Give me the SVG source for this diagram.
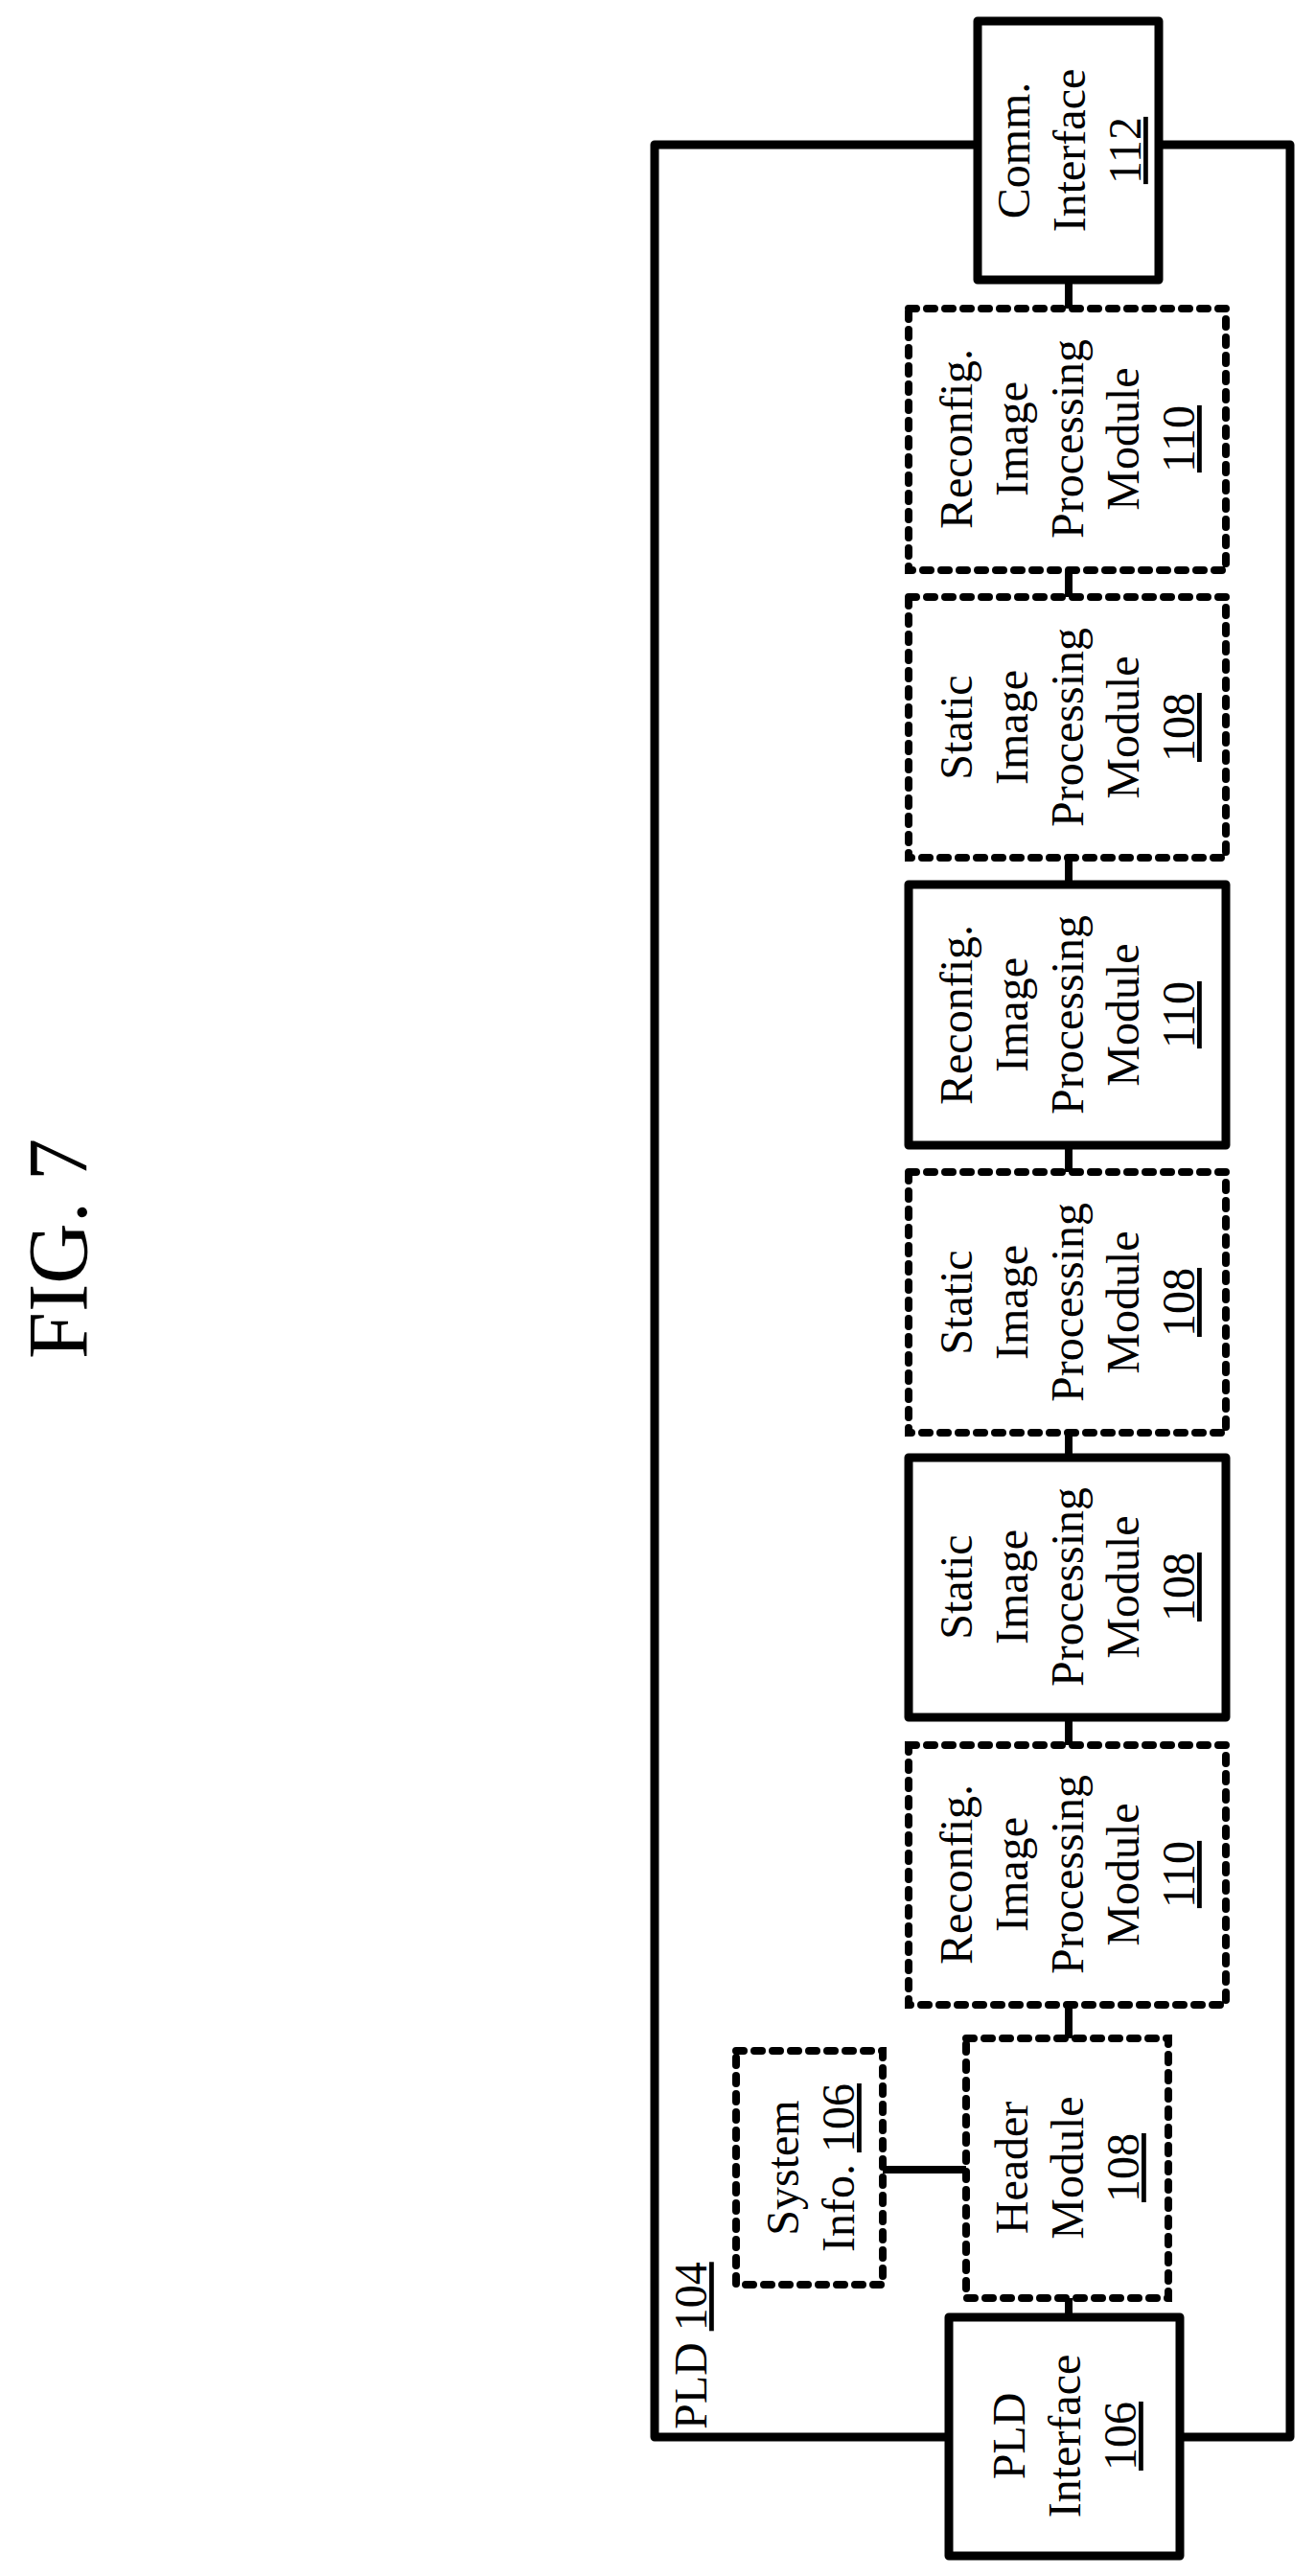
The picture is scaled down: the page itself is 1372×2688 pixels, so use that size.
<svg xmlns="http://www.w3.org/2000/svg" width="1372" height="2688" viewBox="0 0 1372 2688">
<style>
.s{fill:#fff;stroke:#000;stroke-width:9;stroke-linejoin:round}
.d{fill:#fff;stroke:#000;stroke-width:8;stroke-dasharray:8 11;stroke-linecap:round}
.t{font-family:"Liberation Serif",serif;font-size:48px;fill:#000;text-anchor:middle}
.c{stroke:#000;stroke-width:8;fill:none}
</style>
<rect width="1372" height="2688" fill="#fff"/>
<text class="t" style="font-size:88px" transform="translate(90,1303) rotate(-90)">FIG. 7</text>
<g id="pld"><rect class="s" x="683" y="151" width="663" height="2392" fill="none" style="fill:none"/>
<text class="t" style="text-anchor:start" transform="translate(737,2535) rotate(-90)">PLD <tspan text-decoration="underline">104</tspan></text></g>
<g id="connectors">
<line class="c" x1="1115" y1="292" x2="1115" y2="322"/>
<line class="c" x1="1115" y1="595" x2="1115" y2="623"/>
<line class="c" x1="1115" y1="895" x2="1115" y2="923"/>
<line class="c" x1="1115" y1="1195" x2="1115" y2="1223"/>
<line class="c" x1="1115" y1="1495" x2="1115" y2="1521"/>
<line class="c" x1="1115" y1="1792" x2="1115" y2="1821"/>
<line class="c" x1="1115" y1="2092" x2="1115" y2="2127"/>
<line class="c" x1="1115" y1="2398" x2="1115" y2="2418"/>
<line class="c" x1="921" y1="2264" x2="1008" y2="2264"/>
</g>
<g id="comm"><rect class="s" x="1020" y="22" width="189" height="270"/>
<text class="t" transform="translate(1115,157) rotate(-90)"><tspan x="0" y="-41">Comm.</tspan><tspan x="0" y="17">Interface</tspan><tspan x="0" y="75" text-decoration="underline">112</tspan></text></g>
<g id="m1"><rect class="d" x="948" y="322" width="331" height="273"/>
<text class="t" transform="translate(1113,458) rotate(-90)"><tspan x="0" y="-99">Reconfig.</tspan><tspan x="0" y="-41">Image</tspan><tspan x="0" y="17">Processing</tspan><tspan x="0" y="75">Module</tspan><tspan x="0" y="133" text-decoration="underline">110</tspan></text></g>
<g id="m2"><rect class="d" x="948" y="623" width="331" height="272"/>
<text class="t" transform="translate(1113,759) rotate(-90)"><tspan x="0" y="-99">Static</tspan><tspan x="0" y="-41">Image</tspan><tspan x="0" y="17">Processing</tspan><tspan x="0" y="75">Module</tspan><tspan x="0" y="133" text-decoration="underline">108</tspan></text></g>
<g id="m3"><rect class="s" x="948" y="923" width="331" height="272"/>
<text class="t" transform="translate(1113,1059) rotate(-90)"><tspan x="0" y="-99">Reconfig.</tspan><tspan x="0" y="-41">Image</tspan><tspan x="0" y="17">Processing</tspan><tspan x="0" y="75">Module</tspan><tspan x="0" y="133" text-decoration="underline">110</tspan></text></g>
<g id="m4"><rect class="d" x="948" y="1223" width="331" height="272"/>
<text class="t" transform="translate(1113,1359) rotate(-90)"><tspan x="0" y="-99">Static</tspan><tspan x="0" y="-41">Image</tspan><tspan x="0" y="17">Processing</tspan><tspan x="0" y="75">Module</tspan><tspan x="0" y="133" text-decoration="underline">108</tspan></text></g>
<g id="m5"><rect class="s" x="948" y="1521" width="331" height="271"/>
<text class="t" transform="translate(1113,1656) rotate(-90)"><tspan x="0" y="-99">Static</tspan><tspan x="0" y="-41">Image</tspan><tspan x="0" y="17">Processing</tspan><tspan x="0" y="75">Module</tspan><tspan x="0" y="133" text-decoration="underline">108</tspan></text></g>
<g id="m6"><rect class="d" x="948" y="1821" width="331" height="271"/>
<text class="t" transform="translate(1113,1956) rotate(-90)"><tspan x="0" y="-99">Reconfig.</tspan><tspan x="0" y="-41">Image</tspan><tspan x="0" y="17">Processing</tspan><tspan x="0" y="75">Module</tspan><tspan x="0" y="133" text-decoration="underline">110</tspan></text></g>
<g id="sysinfo"><rect class="d" x="768" y="2140" width="153" height="244"/>
<text class="t" transform="translate(845,2262) rotate(-90)"><tspan x="0" y="-12">System</tspan><tspan x="0" y="46">Info. <tspan text-decoration="underline">106</tspan></tspan></text></g>
<g id="header"><rect class="d" x="1008" y="2127" width="211" height="271"/>
<text class="t" transform="translate(1113,2262) rotate(-90)"><tspan x="0" y="-41">Header</tspan><tspan x="0" y="17">Module</tspan><tspan x="0" y="75" text-decoration="underline">108</tspan></text></g>
<g id="pldif"><rect class="s" x="990" y="2418" width="241" height="249"/>
<text class="t" transform="translate(1110,2542) rotate(-90)"><tspan x="0" y="-41">PLD</tspan><tspan x="0" y="17">Interface</tspan><tspan x="0" y="75" text-decoration="underline">106</tspan></text></g>
</svg>
